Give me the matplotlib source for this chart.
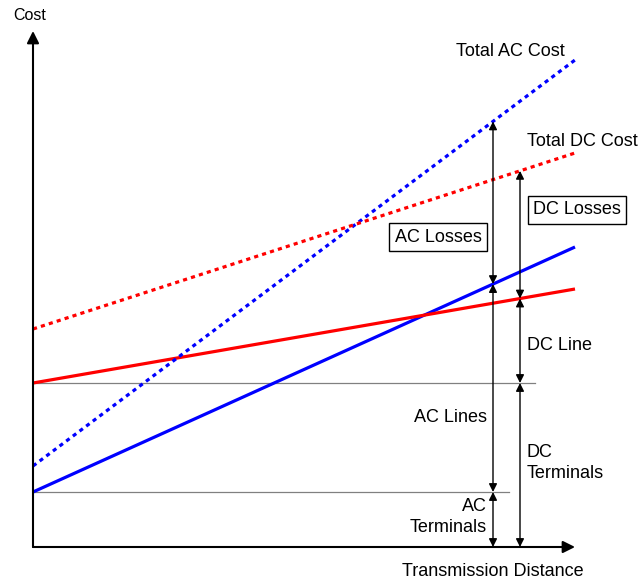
import numpy as np
import matplotlib.pyplot as plt

plt.rcParams['font.family'] = ['Liberation Sans', 'DejaVu Sans']

# distance / cost in arbitrary units (origin at the axis corner)
distance = [0, 542]
ac_line = [55, 300]        # AC terminals + AC lines
ac_total = [81, 487]       # total AC cost
dc_line = [164, 258]       # DC terminals + DC line
dc_total = [218, 394]      # total DC cost
ac_terminals = 55
dc_terminals = 164
x_ac_bracket = 460
x_dc_bracket = 487

fig = plt.figure(figsize=(6.43, 5.85), dpi=100)
ax = fig.add_axes([0, 0, 1, 1])
ax.set_xlim(-33, 610)
ax.set_ylim(-38, 547)
ax.axis('off')

# axes with arrows
ax.annotate('', xy=(0, 516), xytext=(0, 0),
            arrowprops=dict(arrowstyle='-|>', color='black', lw=1.5, mutation_scale=18,
                            shrinkA=0, shrinkB=0))
ax.annotate('', xy=(542, 0), xytext=(0, 0),
            arrowprops=dict(arrowstyle='-|>', color='black', lw=1.5, mutation_scale=18,
                            shrinkA=0, shrinkB=0))

# reference levels
ax.plot([0, 502], [dc_terminals, dc_terminals], color='#808080', lw=0.9)
ax.plot([0, 476], [ac_terminals, ac_terminals], color='#808080', lw=0.9)

ax.plot(distance, ac_line, color='blue', lw=2.3, solid_capstyle='butt')
ax.plot(distance, dc_line, color='red', lw=2.3, solid_capstyle='butt')
ax.plot(distance, ac_total, color='blue', lw=2.3, linestyle=(0, (1.3, 1.3)))
ax.plot(distance, dc_total, color='red', lw=2.3, linestyle=(0, (1.3, 1.3)))

def bracket(x, y0, y1):
    ax.annotate('', xy=(x, y1), xytext=(x, y0),
                arrowprops=dict(arrowstyle='<|-|>', color='black', lw=1.0,
                                mutation_scale=12, shrinkA=0, shrinkB=0))

ac_top = np.interp(x_ac_bracket, distance, ac_total)
ac_mid = np.interp(x_ac_bracket, distance, ac_line)
dc_top = np.interp(x_dc_bracket, distance, dc_total)
dc_mid = np.interp(x_dc_bracket, distance, dc_line)

bracket(x_ac_bracket, 0, ac_terminals)
bracket(x_ac_bracket, ac_terminals, ac_mid)
bracket(x_ac_bracket, ac_mid, ac_top)
bracket(x_dc_bracket, 0, dc_terminals)
bracket(x_dc_bracket, dc_terminals, dc_mid)
bracket(x_dc_bracket, dc_mid, dc_top)

fs = 13
ax.text(-3, 532, 'Cost', fontsize=11.5, ha='center', va='center')
ax.text(460, -25, 'Transmission Distance', fontsize=fs, ha='center', va='center')
ax.text(532, 496, 'Total AC Cost', fontsize=fs, ha='right', va='center')
ax.text(494, 406, 'Total DC Cost', fontsize=fs, ha='left', va='center')
box = dict(boxstyle='square,pad=0.3', fc='white', ec='black', lw=1.0)
ax.text(544, 337, 'DC Losses', fontsize=fs, ha='center', va='center', bbox=box)
ax.text(405, 310, 'AC Losses', fontsize=fs, ha='center', va='center', bbox=box)
ax.text(494, 202, 'DC Line', fontsize=fs, ha='left', va='center')
ax.text(454, 129, 'AC Lines', fontsize=fs, ha='right', va='center')
ax.text(494, 84, 'DC\nTerminals', fontsize=fs, ha='left', va='center', linespacing=1.25)
ax.text(454, 30, 'AC\nTerminals', fontsize=fs, ha='right', va='center', linespacing=1.25)

fig.savefig('out.png', dpi=100)
